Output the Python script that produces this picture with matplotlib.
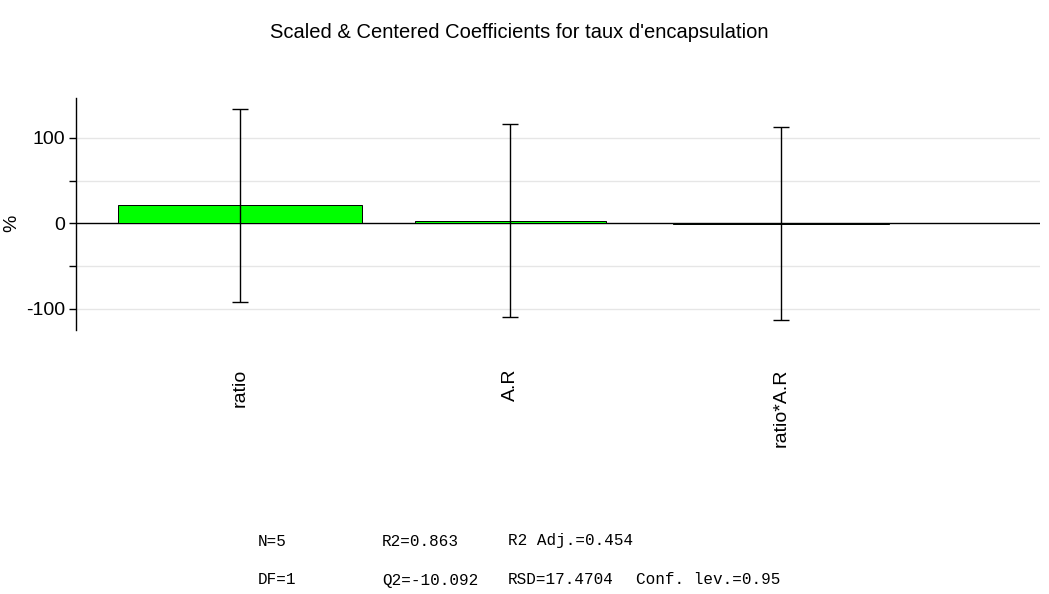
import matplotlib
matplotlib.use("Agg")
import matplotlib.pyplot as plt
import numpy as np

terms = ["ratio", "A.R", "ratio*A.R"]
coef = [21.0, 3.0, -0.3]
conf = [112.7, 112.9, 112.5]
bar_widths = [0.905, 0.706, 0.8]

stats_row1 = ["N=5", "R2=0.863", "R2 Adj.=0.454"]
stats_row2 = ["DF=1", "Q2=-10.092", "RSD=17.4704", "Conf. lev.=0.95"]

plt.rcParams['font.family'] = ['Liberation Sans', 'DejaVu Sans']
plt.rcParams['axes.unicode_minus'] = False

fig = plt.figure(figsize=(10.49, 5.94), dpi=100)
ax = fig.add_axes([0.0725, 0.4444, 0.9185, 0.391])

x = np.arange(len(terms))
ax.bar(x, coef, width=bar_widths, color="#00ff00", edgecolor="black", linewidth=0.7, zorder=3)
ax.errorbar(x, coef, yerr=conf, fmt="none", ecolor="black", elinewidth=1, capsize=6, capthick=1, zorder=4)
ax.axhline(0, color="black", lw=1, zorder=2)

ax.set_xlim(-0.606, 2.957)
ax.set_ylim(-125, 147)
ax.set_yticks([-100, 0, 100])
ax.set_yticks([-50, 50], minor=True)
for v in [-100, -50, 50, 100]:
    ax.axhline(v, color="#e6e6e6", lw=1, zorder=1)
ax.tick_params(axis="y", which="both", direction="out", length=5, width=1, labelsize=14, pad=3)
ax.set_xticks(x)
ax.set_xticklabels(terms, rotation=90, fontsize=14, va="top")
ax.tick_params(axis="x", length=0, pad=28)
for s in ["top", "right", "bottom"]:
    ax.spines[s].set_visible(False)
ax.spines["left"].set_linewidth(1)
ax.set_ylabel("%", fontsize=14)
ax.yaxis.set_label_coords(-0.058, 0.46)

fig.text(0.495, 0.945, "Scaled & Centered Coefficients for taux d'encapsulation",
         ha="center", va="center", fontsize=14.5)

cols = [258, 382, 508, 636]
for i, t in enumerate(stats_row1):
    fig.text(cols[i] / 1049, 1 - 541 / 594, t, family="Liberation Mono", fontsize=11.5, va="center")
for i, t in enumerate(stats_row2):
    fig.text(cols[i] / 1049, 1 - 580 / 594, t, family="Liberation Mono", fontsize=11.5, va="center")

fig.savefig("out.png", dpi=100)
